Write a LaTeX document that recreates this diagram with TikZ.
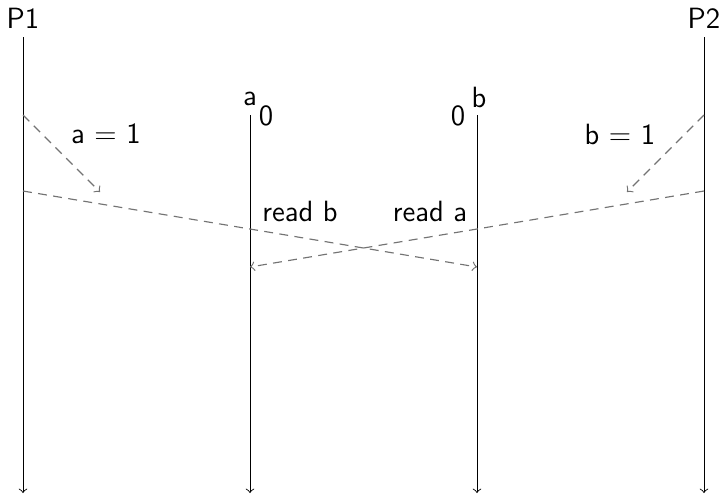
\documentclass[tikz,border=0pt]{standalone}
\usetikzlibrary{positioning}
\begin{document}
\begin{tikzpicture}[x=0.0138cm, y=-0.0138cm, line width=0.35pt,
	every node/.style={font=\sffamily\fontsize{11.5}{14}\selectfont},
	msg/.style={->, line width=0.45pt, dash pattern=on 3.5pt off 2.5pt, gray!90!black}]
	\useasboundingbox (0,0) rectangle (722,494);
	% Processes
	\node (p1) at (23,18) {P1};
	\node (p2) at (704,18) {P2};
	\coordinate (p1end) at (23,493);
	\coordinate (p2end) at (704,493);
	\draw[->] (p1) -- (p1end);
	\draw[->] (p2) -- (p2end);
	
	% Memory locations
	\coordinate (atop) at (250,115);
	\coordinate (aend) at (250,493);
	\coordinate (btop) at (477,115);
	\coordinate (bend) at (477,493);
	\draw[->] (atop) -- (aend);
	\draw[->] (btop) -- (bend);
	\node (aname) at (250,99) {a};
	\node (aval) at (266,116) {0};
	\node (bname) at (479,97) {b};
	\node (bval) at (458,116) {0};
	
	% Writes
	\coordinate (p1w) at (23,115);
	\coordinate (p1wend) at (100,192);
	\coordinate (p2w) at (704,115);
	\coordinate (p2wend) at (627,192);
	\draw[msg] (p1w) -- (p1wend);
	\draw[msg] (p2w) -- (p2wend);
	\node (wa) at (106,134) {a = 1};
	\node (wb) at (620,134) {b = 1};
	
	% Reads
	\coordinate (p1r) at (23,191);
	\coordinate (bread) at (477,267);
	\coordinate (p2r) at (704,191);
	\coordinate (aread) at (250,267);
	\draw[msg] (p1r) -- (bread);
	\draw[msg] (p2r) -- (aread);
	\node (ra) at (300,211) {read\ b};
	\node (rb) at (430,211) {read\ a};
\end{tikzpicture}
\end{document}
